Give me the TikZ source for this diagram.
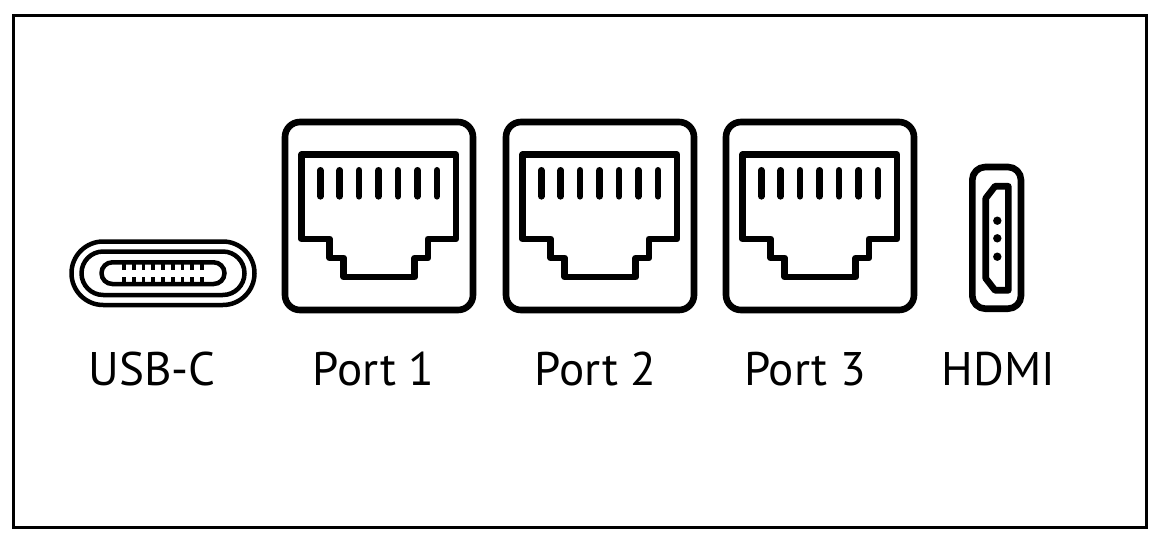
\documentclass[tikz,border=0pt]{standalone}
\usepackage{fontspec}
\setmainfont{PT Sans}
\tikzset{
  framestyle/.style={line width=2.8pt},
  thickline/.style={line width=4.7pt,line join=round,line cap=round},
  usbline/.style={line width=3.2pt},
  portlabel/.style={font=\fontsize{33.5}{40}\selectfont,inner sep=0pt,anchor=base}
}
\begin{document}
\begin{tikzpicture}[x=0.025cm,y=-0.025cm]
\useasboundingbox (0,0) rectangle (1160,540);
\draw[framestyle] (13.5,15.5) rectangle (1146.5,527.5);
% usb-c
\draw[usbline,rounded corners=31.7*0.025cm] (71.5,241.5) rectangle (254.5,305);
\draw[usbline,rounded corners=21.7*0.025cm] (81.5,251.5) rectangle (244.5,295);
\draw[usbline,rounded corners=10.8*0.025cm] (101.5,262.3) rectangle (224.5,284);
\foreach \n in {0,...,8}{
\draw[line width=2.6pt] (124+9.75*\n,262) -- (124+9.75*\n,269.5);
\draw[line width=2.6pt] (124+9.75*\n,277) -- (124+9.75*\n,284);}
% network ports
\foreach \d in {0,221,441}{
\begin{scope}[xshift=\d*0.025cm]
\draw[thickline,rounded corners=15*0.025cm] (285,122) rectangle (473,310);
\draw[thickline] (301.5,154.7) -- (456,154.7) -- (456,239) -- (428,239) -- (428,258)
  -- (414.7,258) -- (414.7,277) -- (343.7,277) -- (343.7,258) -- (329.7,258)
  -- (329.7,239) -- (301.5,239) -- cycle;
\foreach \n in {0,...,6}{
\draw[thickline] (320.3+19.44*\n,170.3) -- (320.3+19.44*\n,196.3);}
\end{scope}}
% hdmi
\draw[thickline,rounded corners=13*0.025cm] (972.3,167) rectangle (1021,308.7);
\draw[thickline] (995,186.3) -- (1008.3,186.3) -- (1008.3,290.3) -- (995,290.3)
  -- (985.7,278.3) -- (985.7,198.3) -- cycle;
\foreach \y in {220.7,238.3,256.7}{
\fill (997.3,\y) circle (4.2);}
% labels
\foreach \x/\y/\name in {152/USB-C/usbc,373.5/Port 1/portone,595.5/Port 2/porttwo,805/Port 3/portthree,998.5/HDMI/hdmi}{
\node[portlabel] (\name) at (\x,385.5){\y};}
\end{tikzpicture}
\end{document}
